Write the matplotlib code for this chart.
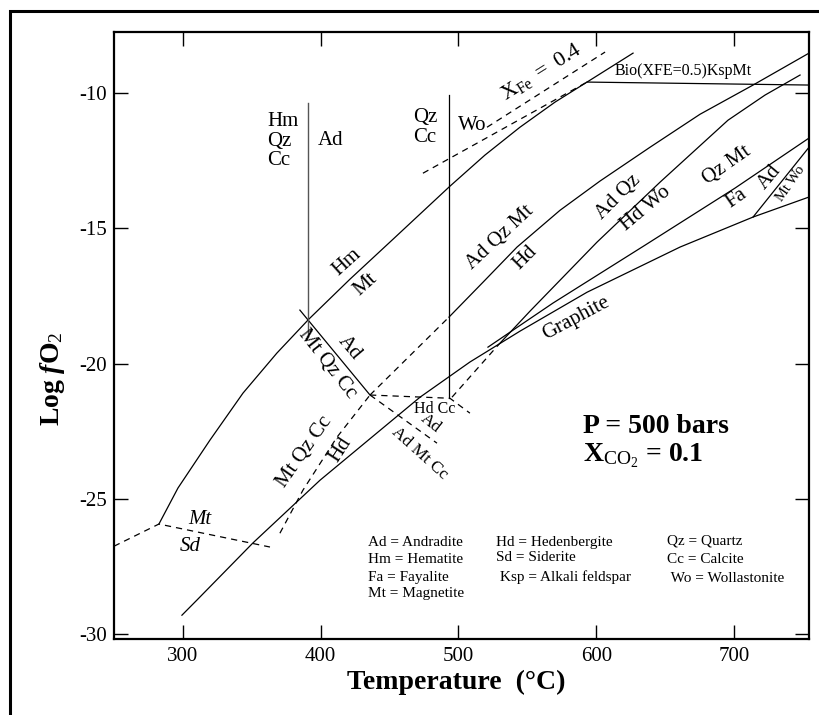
import numpy as np
import matplotlib
matplotlib.use('Agg')
import matplotlib.pyplot as plt
from matplotlib.patches import Rectangle

plt.rcParams['font.family'] = ['Liberation Serif', 'DejaVu Serif']
plt.rcParams['mathtext.fontset'] = 'custom'
plt.rcParams['mathtext.rm'] = 'Liberation Serif'
plt.rcParams['mathtext.it'] = 'Liberation Serif:italic'
plt.rcParams['mathtext.bf'] = 'Liberation Serif:bold'
plt.rcParams['mathtext.bfit'] = 'Liberation Serif:italic:bold'
plt.rcParams['axes.unicode_minus'] = False

# --- boundaries, T (deg C) vs log fO2 ---
# solid
hm_mt_T = [282.6, 296.4, 319.6, 343.6, 368.2, 391.5, 421.2, 452.5, 493.8, 519.2, 544.6, 570.1, 593.3, 626.7]
hm_mt_f = [-25.93, -24.60, -22.83, -21.09, -19.61, -18.35, -16.88, -15.40, -13.44, -12.29, -11.26, -10.33, -9.59, -8.52]

graph_T = [299.3, 310.2, 350.8, 399.5, 472.1, 508.3, 544.6, 593.3, 660.8, 713.8, 754.4]
graph_f = [-29.30, -28.74, -26.63, -24.31, -21.24, -19.94, -18.80, -17.36, -15.69, -14.58, -13.84]

adqzmt_T = [493.1, 517.8, 542.5, 573.7, 602.7, 639.0, 675.3, 713.8, 754.4]
adqzmt_f = [-18.28, -16.99, -15.69, -14.33, -13.25, -12.00, -10.78, -9.70, -8.52]

adqz_T = [528.7, 551.9, 600.5, 646.3, 695.6, 722.5, 747.9]
adqz_f = [-19.32, -18.06, -15.51, -13.29, -11.00, -10.07, -9.33]

qzmt_T = [521.4, 568.6, 635.4, 700.7, 754.4]
qzmt_f = [-19.39, -17.76, -15.62, -13.51, -11.66]

admtwo_T = [713.8, 754.4]
admtwo_f = [-14.58, -12.0]

bio_T = [593.3, 754.4]
bio_f = [-9.59, -9.70]

ad_mqc_T = [384.9, 435.8]
ad_mqc_f = [-18.02, -21.16]

vert1_T = [390.5, 390.5]
vert1_f = [-10.37, -19.02]
vert2_T = [493.0, 493.0]
vert2_f = [-10.07, -21.28]

# dashed (metastable)
mtsd_T = [250.0, 282.6, 363.2]
mtsd_f = [-26.75, -25.93, -26.78]

mqc_hd_T = [370.4, 387.1, 411.8, 435.8]
mqc_hd_f = [-26.27, -24.68, -22.72, -21.16]

adqzmt_ms_T = [435.8, 493.1]
adqzmt_ms_f = [-21.16, -18.28]

ad_amc_T = [435.8, 484.4]
ad_amc_f = [-21.16, -22.94]

hdcc_T = [435.8, 493.8, 508.3]
hdcc_f = [-21.16, -21.28, -21.83]

adqz_ms_T = [495.3, 528.7]
adqz_ms_f = [-21.24, -19.32]

xfe_up_T = [520.7, 606.4]
xfe_up_f = [-11.26, -8.48]
xfe_lo_T = [474.2, 593.3]
xfe_lo_f = [-12.96, -9.59]

legend_col1 = ['Ad = Andradite', 'Hm = Hematite', 'Fa = Fayalite', 'Mt = Magnetite']
legend_col2 = ['Hd = Hedenbergite', 'Sd = Siderite', ' Ksp = Alkali feldspar']
legend_col3 = ['Qz = Quartz', 'Cc = Calcite', ' Wo = Wollastonite']

fig = plt.figure(figsize=(8.19, 7.15), dpi=100)
ax = fig.add_axes([0.1392, 0.1063, 0.8486, 0.8489])

solid = dict(color='black', lw=0.9)
dash = dict(color='black', lw=0.9, ls=(0, (5, 4)))

for T, f in [(hm_mt_T, hm_mt_f), (graph_T, graph_f), (adqzmt_T, adqzmt_f),
             (adqz_T, adqz_f), (qzmt_T, qzmt_f), (admtwo_T, admtwo_f),
             (bio_T, bio_f), (ad_mqc_T, ad_mqc_f), (vert2_T, vert2_f)]:
    ax.plot(T, f, **solid)
ax.plot(vert1_T, vert1_f, color='#555555', lw=1.0)

for T, f in [(mtsd_T, mtsd_f), (mqc_hd_T, mqc_hd_f), (adqzmt_ms_T, adqzmt_ms_f),
             (ad_amc_T, ad_amc_f), (hdcc_T, hdcc_f), (adqz_ms_T, adqz_ms_f),
             (xfe_up_T, xfe_up_f), (xfe_lo_T, xfe_lo_f)]:
    ax.plot(T, f, **dash)

ax.set_xlim(250, 754.4)
ax.set_ylim(-30.18, -7.74)
ax.set_xticks([300, 400, 500, 600, 700])
ax.set_yticks([-10, -15, -20, -25, -30])
ax.tick_params(direction='in', length=10, width=1, top=True, right=True,
               labelsize=15, pad=6)
ax.tick_params(axis='y', pad=5)
for s in ax.spines.values():
    s.set_linewidth(1.6)

lab = 15
ax.text(361, -11.77, 'Hm\nQz\nCc', fontsize=lab, ha='left', va='center', linespacing=1.05)
ax.text(407.4, -11.74, 'Ad', fontsize=lab, ha='center', va='center')
ax.text(467, -11.26, 'Qz\nCc', fontsize=lab, ha='left', va='center', linespacing=1.05)
ax.text(509.8, -11.18, 'Wo', fontsize=lab, ha='center', va='center')
ax.text(559.9, -9.22, r'$\mathrm{X}_{\mathrm{Fe}}\mathrm{\ =\ 0.4}$', fontsize=16,
        ha='center', va='center', rotation=32)
ax.text(613.6, -9.19, 'Bio(XFE=0.5)KspMt', fontsize=11.5, ha='left', va='center')

ax.text(419.1, -16.25, 'Hm', fontsize=lab, ha='center', va='center', rotation=42)
ax.text(432.8, -17.06, 'Mt', fontsize=lab, ha='center', va='center', rotation=42)
ax.text(421.2, -19.43, 'Ad', fontsize=lab, ha='center', va='center', rotation=-50)
ax.text(404.5, -20.02, 'Mt Qz Cc', fontsize=lab, ha='center', va='center', rotation=-52)
ax.text(482.9, -21.68, 'Hd Cc', fontsize=11.5, ha='center', va='center')
ax.text(480.0, -22.2, 'Ad', fontsize=12.5, ha='center', va='center', rotation=-38)
ax.text(472.0, -23.31, 'Ad Mt Cc', fontsize=12.5, ha='center', va='center', rotation=-42)
ax.text(388.6, -23.27, 'Mt Qz Cc', fontsize=lab, ha='center', va='center', rotation=55)
ax.text(414.7, -23.20, 'Hd', fontsize=lab, ha='center', va='center', rotation=57)
ax.text(312.3, -25.75, 'Mt', fontsize=lab, ha='center', va='center', style='italic')
ax.text(305.1, -26.75, 'Sd', fontsize=lab, ha='center', va='center', style='italic')

ax.text(530.1, -15.32, 'Ad Qz Mt', fontsize=lab, ha='center', va='center', rotation=43)
ax.text(548.3, -16.10, 'Hd', fontsize=lab, ha='center', va='center', rotation=45)
ax.text(615.8, -13.84, 'Ad Qz', fontsize=lab, ha='center', va='center', rotation=45)
ax.text(636.1, -14.25, 'Hd Wo', fontsize=lab, ha='center', va='center', rotation=40)
ax.text(694.9, -12.66, 'Qz Mt', fontsize=lab, ha='center', va='center', rotation=35)
ax.text(701.5, -13.88, 'Fa', fontsize=lab, ha='center', va='center', rotation=35)
ax.text(726.1, -13.11, 'Ad', fontsize=lab, ha='center', va='center', rotation=50)
ax.text(741.4, -13.33, 'Mt Wo', fontsize=10.5, ha='center', va='center', rotation=55)
ax.text(585.3, -18.32, 'Graphite', fontsize=lab, ha='center', va='center', rotation=28)

ax.text(590.4, -22.31, 'P = 500 bars', fontsize=20, fontweight='bold', ha='left', va='center')
ax.text(590.4, -23.42, r'X$_{\mathrm{CO}_2}$ = 0.1', fontsize=20, fontweight='bold',
        ha='left', va='center')

rows1 = [-26.60, -27.23, -27.89, -28.48]
rows2 = [-26.60, -27.15, -27.89]
rows3 = [-26.57, -27.23, -27.93]
for s, y in zip(legend_col1, rows1):
    ax.text(434.3, y, s, fontsize=11, ha='left', va='center')
for s, y in zip(legend_col2, rows2):
    ax.text(527.0, y, s, fontsize=11, ha='left', va='center')
for s, y in zip(legend_col3, rows3):
    ax.text(651.4, y, s, fontsize=11, ha='left', va='center')

fig.text(0.0635, 0.471, r'$\mathbf{Log}\ \mathbfit{f}\mathbf{O}_{2}$', fontsize=20,
         rotation=90, ha='center', va='center')
fig.text(0.557, 0.045, 'Temperature  (°C)', fontsize=20, fontweight='bold',
         ha='center', va='center')

# outer frame, cut by the image edge on the right and bottom
fig.patches.append(Rectangle((10 / 819, -0.2), 1.5, 1.2 - 11 / 715, transform=fig.transFigure,
                             fill=False, lw=2.2, color='black'))

fig.savefig('out.png', dpi=100)
